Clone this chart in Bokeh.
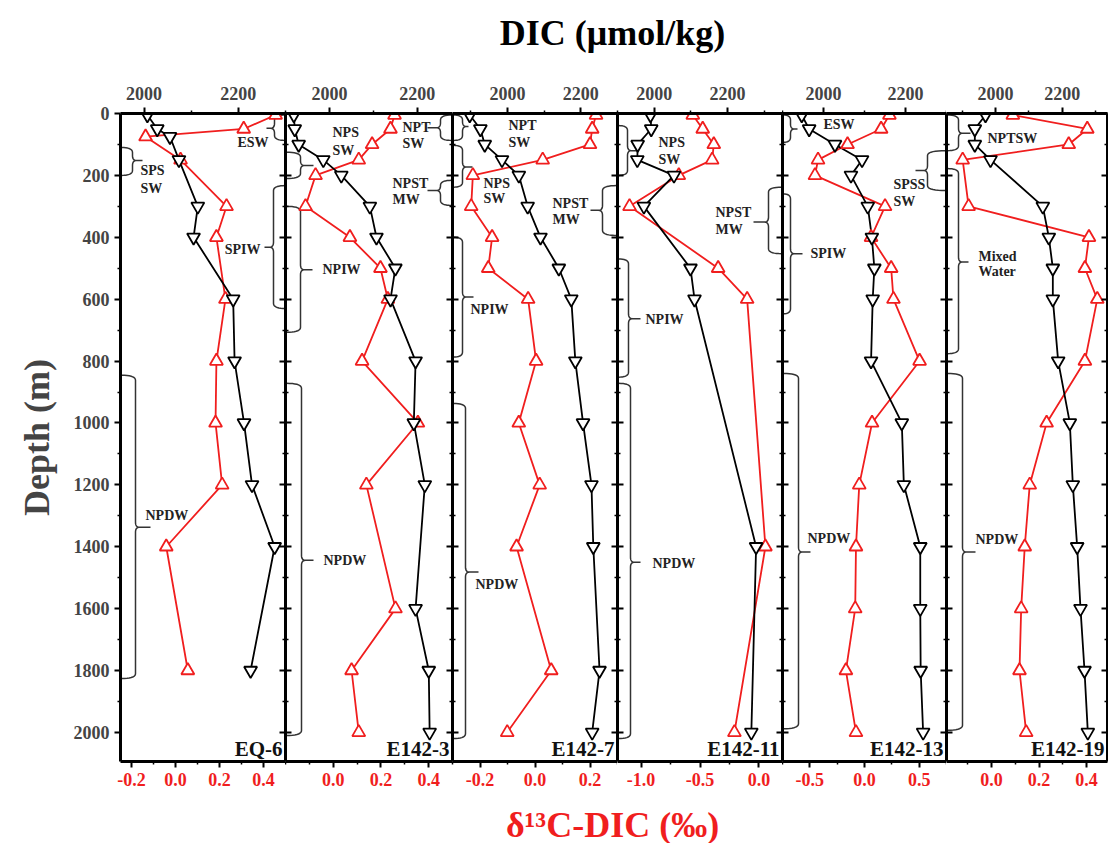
import numpy as np
from bokeh.plotting import figure
from bokeh.models import Range1d, LinearAxis, FixedTicker, PrintfTickFormatter
from bokeh.layouts import column, row
from bokeh.embed import file_html
from bokeh.resources import INLINE
from bokeh.core.properties import value

# ---------------- data ----------------
stations = ["EQ-6", "E142-3", "E142-7", "E142-11", "E142-13", "E142-19"]

eq6_depth = [5, 50, 75, 150, 300, 400, 600, 800, 1000, 1200, 1400, 1800]
eq6_dic = [2007, 2028, 2055, 2074, 2114, 2105, 2189, 2192, 2212, 2229, 2277, 2226]
eq6_d13c = [0.455, 0.31, -0.136, 0.023, 0.232, 0.186, 0.227, 0.186, 0.182, 0.212, -0.042, 0.056]

e142_3_depth = [5, 50, 100, 150, 200, 300, 400, 500, 600, 800, 1000, 1200, 1600, 1800, 2000]
e142_3_dic = [1919, 1921, 1930, 1986, 2027, 2092, 2107, 2150, 2139, 2196, 2192, 2217, 2196, 2226, 2228]
e142_3_d13c = [0.257, 0.24, 0.163, 0.107, -0.074, -0.116, 0.07, 0.198, 0.229, 0.121, 0.355, 0.139, 0.261, 0.077, 0.107]

e142_7_depth = [5, 50, 100, 150, 200, 300, 400, 500, 600, 800, 1000, 1200, 1400, 1800, 2000]
e142_7_dic = [1897, 1926, 1938, 1985, 2031, 2055, 2090, 2140, 2174, 2185, 2206, 2229, 2234, 2251, 2231]
e142_7_d13c = [0.222, 0.208, 0.2, 0.028, -0.226, -0.232, -0.156, -0.17, -0.025, 0.004, -0.059, 0.017, -0.067, 0.059, -0.101]

e142_11_depth = [5, 50, 100, 150, 200, 300, 500, 600, 1400, 2000]
e142_11_dic = [1990, 1992, 1955, 1954, 2054, 1972, 2099, 2110, 2278, 2265]
e142_11_d13c = [-0.561, -0.477, -0.383, -0.397, -0.68, -1.098, -0.346, -0.1, 0.055, -0.208]

e142_13_depth = [5, 50, 100, 150, 200, 300, 400, 500, 600, 800, 1000, 1200, 1400, 1600, 1800, 2000]
e142_13_dic = [1947, 1965, 2028, 2094, 2067, 2108, 2118, 2124, 2120, 2116, 2191, 2196, 2236, 2236, 2237, 2243]
e142_13_d13c = [0.228, 0.152, -0.155, -0.425, -0.453, 0.188, 0.06, 0.244, 0.265, 0.504, 0.069, -0.048, -0.078, -0.085, -0.17, -0.078]

e142_19_depth = [5, 50, 100, 150, 300, 400, 500, 600, 800, 1000, 1200, 1400, 1600, 1800, 2000]
e142_19_dic = [1970, 1938, 1938, 1985, 2142, 2160, 2172, 2172, 2188, 2223, 2232, 2245, 2255, 2267, 2277]
e142_19_d13c = [0.09, 0.403, 0.325, -0.121, -0.096, 0.41, 0.393, 0.445, 0.393, 0.232, 0.161, 0.14, 0.125, 0.118, 0.146]

depths = [eq6_depth, e142_3_depth, e142_7_depth, e142_11_depth, e142_13_depth, e142_19_depth]
dics = [eq6_dic, e142_3_dic, e142_7_dic, e142_11_dic, e142_13_dic, e142_19_dic]
d13cs = [eq6_d13c, e142_3_d13c, e142_7_d13c, e142_11_d13c, e142_13_d13c, e142_19_d13c]

depth_major = list(range(0, 2001, 200))
depth_minor = list(range(100, 2001, 200))
dic_major = [1800, 2000, 2200, 2400]
dic_minor = [1900, 2100, 2300]
d13c_major = [[-0.2, 0.0, 0.2, 0.4], [0.0, 0.2, 0.4], [-0.2, 0.0, 0.2],
              [-1.0, -0.5, 0.0], [-0.5, 0.0, 0.5], [0.0, 0.2, 0.4]]
d13c_minor = [[-0.1, 0.1, 0.3], [-0.2, -0.1, 0.1, 0.3, 0.5], [-0.3, -0.1, 0.1, 0.3],
              [-0.75, -0.25], [-0.75, -0.25, 0.25, 0.75], [-0.1, 0.1, 0.3]]

# water-mass brackets: (depth top, depth bottom, depth of tip, label lines with depth)
water_masses = [
    [(5, 87, 48, [("ESW", 95)]), (110, 200, 152, [("SPS", 184), ("SW", 242)]),
     (233, 630, 432, [("SPIW", 440)]), (846, 1826, 1337, [("NPDW", 1300)])],
    [(125, 210, 168, [("NPS", 62), ("SW", 120)]), (5, 87, 46, [("NPT", 45), ("SW", 98)]),
     (216, 297, 249, [("NPST", 226), ("MW", 278)]), (300, 707, 505, [("NPIW", 505)]),
     (872, 2010, 1444, [("NPDW", 1444)])],
    [(5, 87, 42, [("NPT", 39), ("SW", 94)]), (103, 238, 173, [("NPS", 225), ("SW", 275)]),
     (233, 394, 313, [("NPST", 290), ("MW", 342)]), (400, 787, 593, [("NPIW", 633)]),
     (937, 2020, 1482, [("NPDW", 1522)])],
    [(39, 200, 120, [("NPS", 93), ("SW", 149)]), (238, 453, 351, [("NPST", 319), ("MW", 375)]),
     (470, 852, 663, [("NPIW", 666)]), (872, 2020, 1450, [("NPDW", 1453)])],
    [(5, 93, 50, [("ESW", 36)]), (120, 249, 184, [("SPSS", 230), ("SW", 284)]),
     (260, 647, 453, [("SPIW", 453)]), (840, 1988, 1417, [("NPDW", 1373)])],
    [(5, 120, 64, [("NPTSW", 80)]), (178, 776, 480, [("Mixed", 461), ("Water", 511)]),
     (840, 1993, 1417, [("NPDW", 1376)])],
]

# ---------------- layout / style ----------------
RED = "#f01e1e"
FONT = "Liberation Serif"
DEPTH_MAX = 2094
FRAME_H = 648
LEFT_BORDER = 120
TITLE_H = 58
panel_left = [120, 285, 452, 617, 782, 946]   # px of each frame's left edge
frame_w = [165, 167, 165, 165, 164, 161]
dic_ranges = [(1950, 2300), (1900, 2280), (1850, 2300), (1900, 2350), (1900, 2300), (1853, 2336)]
d13c_ranges = [(-0.25, 0.5), (-0.2, 0.5), (-0.3, 0.3), (-1.2, 0.2), (-0.75, 0.75), (-0.189, 0.488)]

# bracket geometry in px: (hook x, spine x, tip x, label x, label align)
bracket_geom = [
    [(285, 274, 266, 268, "right"), (121, 132, 142, 140, "left"),
     (285, 273, 264, 260, "right"), (121, 135, 150, 145, "left")],
    [(286, 300, 313, 332, "left"), (451, 440, 427, 402, "left"),
     (451, 440, 427, 392, "left"), (286, 300, 312, 322, "left"), (286, 301, 313, 323, "left")],
    [(453, 462, 468, 508, "left"), (453, 462, 472, 483, "left"),
     (616, 602, 590, 552, "left"), (453, 462, 473, 470, "left"), (453, 465, 478, 475, "left")],
    [(618, 627, 636, 658, "left"), (781, 768, 753, 715, "left"),
     (618, 628, 640, 645, "left"), (618, 630, 640, 652, "left")],
    [(783, 790, 797, 823, "left"), (945, 927, 915, 893, "left"),
     (783, 790, 802, 810, "left"), (783, 798, 810, 807, "left")],
    [(947, 958, 970, 987, "left"), (947, 958, 968, 978, "left"), (947, 962, 975, 975, "left")],
]

PX_PER_M = FRAME_H / DEPTH_MAX


def qb(p0, p1, p2, n=10):
    t = np.linspace(0, 1, n)
    x = (1 - t) ** 2 * p0[0] + 2 * (1 - t) * t * p1[0] + t ** 2 * p2[0]
    y = (1 - t) ** 2 * p0[1] + 2 * (1 - t) * t * p1[1] + t ** 2 * p2[1]
    return list(x), list(y)


def brace(hook, spine, tipx, top, bot, mid):
    r = min(5 / PX_PER_M, (bot - top) / 4.0)
    s = 1 if tipx > spine else -1
    k = spine + s * 4
    xs, ys = [], []
    for seg in [qb((hook, top), (spine, top), (spine, top + r)),
                qb((spine, mid - r), (spine, mid), (k, mid)),
                ([tipx, k], [mid, mid]),
                qb((k, mid), (spine, mid), (spine, mid + r)),
                qb((spine, bot - r), (spine, bot), (hook, bot))]:
        xs += seg[0]
        ys += seg[1]
    return xs, ys


def style_axis(ax):
    ax.axis_line_width = 3
    ax.axis_line_color = "black"
    ax.major_tick_line_width = 2
    ax.minor_tick_line_width = 1.5
    ax.major_tick_line_color = "black"
    ax.minor_tick_line_color = "black"
    ax.major_label_text_font = FONT
    ax.major_label_text_font_style = "bold"
    ax.major_label_text_font_size = "18px"
    ax.major_tick_out = 6
    ax.major_tick_in = 0
    ax.minor_tick_out = 3
    ax.minor_tick_in = 0


def inner_axis(ax, ticks):
    style_axis(ax)
    ax.major_label_overrides = {t: "" for t in ticks}
    ax.major_label_text_font_size = "0px"
    ax.major_label_standoff = 0
    ax.major_tick_out = 0
    ax.minor_tick_out = 0
    ax.major_tick_in = 6
    ax.minor_tick_in = 3


panels = []
for i in range(6):
    a, b = dic_ranges[i]
    c, d = d13c_ranges[i]
    W = frame_w[i]
    L = panel_left[i]
    p = figure(frame_width=W, frame_height=FRAME_H,
               x_range=Range1d(a, b), y_range=Range1d(DEPTH_MAX, 0),
               x_axis_location="above", y_axis_location="left",
               output_backend="svg", toolbar_location=None,
               min_border_left=LEFT_BORDER if i == 0 else 0,
               min_border_right=1 if i == 5 else 0,
               min_border_top=55, min_border_bottom=34)
    p.extra_x_ranges = {"d13c": Range1d(c, d)}
    bottom_ax = LinearAxis(x_range_name="d13c")
    p.add_layout(bottom_ax, "below")
    right_ax = LinearAxis()
    p.add_layout(right_ax, "right")
    p.grid.visible = False
    p.outline_line_color = None
    p.background_fill_color = "white"
    p.border_fill_color = "white"

    top_ax = p.above[0]
    style_axis(top_ax)
    top_ax.ticker = FixedTicker(ticks=dic_major, minor_ticks=dic_minor)
    top_ax.major_label_standoff = 8

    style_axis(bottom_ax)
    bottom_ax.ticker = FixedTicker(ticks=d13c_major[i], minor_ticks=d13c_minor[i])
    bottom_ax.formatter = PrintfTickFormatter(format="%.1f")
    bottom_ax.major_label_text_color = RED
    bottom_ax.major_label_standoff = 5

    left_ax = p.left[0]
    left_ax.ticker = FixedTicker(ticks=depth_major, minor_ticks=depth_minor)
    right_ax.ticker = FixedTicker(ticks=depth_major, minor_ticks=depth_minor)
    inner_axis(right_ax, depth_major)
    if i == 0:
        style_axis(left_ax)
        left_ax.major_label_standoff = 5
        left_ax.axis_label = "Depth (m)"
        left_ax.axis_label_text_font = FONT
        left_ax.axis_label_text_font_style = "bold"
        left_ax.axis_label_text_font_size = "36px"
        left_ax.axis_label_standoff = 14
    else:
        inner_axis(left_ax, depth_major)

    def px2x(px):
        return a + (px - L) / W * (b - a)

    # water mass brackets and labels
    bxs, bys = [], []
    lab = {"left": ([], [], []), "right": ([], [], [])}
    for (top, bot, mid, lines), (hook, spine, tipx, labx, align) in zip(water_masses[i], bracket_geom[i]):
        xs, ys = brace(hook, spine, tipx, top, bot, mid)
        bxs.append([px2x(x) for x in xs])
        bys.append(ys)
        for txt, dep in lines:
            lab[align][0].append(px2x(labx))
            lab[align][1].append(dep)
            lab[align][2].append(txt)
    p.multi_line(bxs, bys, line_color="#333333", line_width=1.5)
    for align, (lx, ly, lt) in lab.items():
        if lt:
            p.text(x=lx, y=ly, text=lt, text_align=align, text_baseline="middle",
                   text_font=value(FONT), text_font_style="bold",
                   text_font_size="14px", text_color="#222222")

    # profiles
    p.line(d13cs[i], depths[i], x_range_name="d13c", line_color=RED, line_width=1.8)
    p.line(dics[i], depths[i], line_color="black", line_width=1.8)
    p.scatter(d13cs[i], depths[i], x_range_name="d13c", marker="triangle", size=13,
              line_color=RED, line_width=1.8, fill_color="white")
    p.scatter(dics[i], depths[i], marker="inverted_triangle", size=13,
              line_color="black", line_width=1.8, fill_color="white")

    # station name
    p.text(x=[b], y=[2055], text=[stations[i]], x_offset=-3, text_align="right",
           text_baseline="middle", text_font=value(FONT), text_font_style="bold",
           text_font_size="21px", text_color="#111111")
    panels.append(p)

TOTAL_W = LEFT_BORDER + sum(frame_w) + 1

title_fig = figure(width=TOTAL_W, height=TITLE_H, x_range=Range1d(0, TOTAL_W), y_range=Range1d(TITLE_H, 0),
                   output_backend="svg", toolbar_location=None, min_border=0)
title_fig.axis.visible = False
title_fig.grid.visible = False
title_fig.outline_line_color = None
title_fig.text(x=[612], y=[32], text=["DIC (μmol/kg)"], text_align="center", text_baseline="middle",
               text_font=value(FONT), text_font_style="bold", text_font_size="36px", text_color="black")

XLAB_H = 48
xlab_fig = figure(width=TOTAL_W, height=XLAB_H, x_range=Range1d(0, TOTAL_W), y_range=Range1d(XLAB_H, 0),
                  output_backend="svg", toolbar_location=None, min_border=0)
xlab_fig.axis.visible = False
xlab_fig.grid.visible = False
xlab_fig.outline_line_color = None
xlab_fig.text(x=[612], y=[29], text=["δ¹³C-DIC (‰)"], text_align="center", text_baseline="middle",
              text_font=value(FONT), text_font_style="bold", text_font_size="36px", text_color=RED)

layout = column(title_fig, row(*panels), xlab_fig)
open("out.html", "w").write(file_html(layout, INLINE))
